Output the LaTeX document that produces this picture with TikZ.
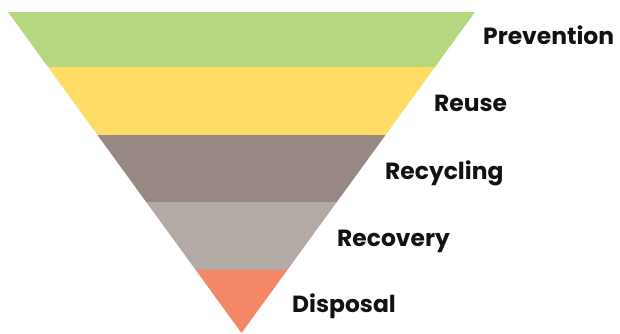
\documentclass[tikz,border=0pt]{standalone}
\usepackage{fontspec}
\setmainfont{Poppins}
\usetikzlibrary{
  positioning,
  calc}
\definecolor{preventioncolor}{RGB}{181,215,128}
\definecolor{reusecolor}{RGB}{255,220,102}
\definecolor{recyclingcolor}{RGB}{151,136,131}
\definecolor{recoverycolor}{RGB}{180,170,165}
\definecolor{disposalcolor}{RGB}{245,135,105}
\tikzset{
  %% band : one level of the hierarchy
  band/.style={
    draw=none
  },
  %% level : the label of a level
  level/.style={
    anchor=base west,
    inner sep=0pt,
    text=black!93,
    font=\fontsize{23.4}{26}\selectfont\bfseries
  }
}

\begin{document}
\begin{tikzpicture}
  [x=1pt,
  y=-1pt]

  \useasboundingbox (0, 0) rectangle (620, 333);

  %% Corners of the triangle
  \coordinate (tl) at (8, 12);
  \coordinate (tr) at (475, 12);
  \coordinate (apex) at (241.5, 333);

  %% Band borders
  \coordinate (l1) at ($(apex)!0.8287!(tl)$);
  \coordinate (r1) at ($(apex)!0.8287!(tr)$);
  \coordinate (l2) at ($(apex)!0.6168!(tl)$);
  \coordinate (r2) at ($(apex)!0.6168!(tr)$);
  \coordinate (l3) at ($(apex)!0.4081!(tl)$);
  \coordinate (r3) at ($(apex)!0.4081!(tr)$);
  \coordinate (l4) at ($(apex)!0.1963!(tl)$);
  \coordinate (r4) at ($(apex)!0.1963!(tr)$);

  %% Bands
  \fill [band, preventioncolor] (tl) -- (tr) -- (r1) -- (l1) -- cycle;
  \fill [band, reusecolor] (l1) -- (r1) -- (r2) -- (l2) -- cycle;
  \fill [band, recyclingcolor] (l2) -- (r2) -- (r3) -- (l3) -- cycle;
  \fill [band, recoverycolor] (l3) -- (r3) -- (r4) -- (l4) -- cycle;
  \fill [band, disposalcolor] (l4) -- (r4) -- (apex) -- cycle;

  %% Labels
  \node (prevention) [level] at (483, 44.5) {Prevention};
  \node (reuse) [level] at (434, 111.5) {Reuse};
  \node (recycling) [level] at (385, 179) {Recycling};
  \node (recovery) [level] at (337, 246.5) {Recovery};
  \node (disposal) [level] at (292, 312.5) {Disposal};

\end{tikzpicture}
\end{document}
